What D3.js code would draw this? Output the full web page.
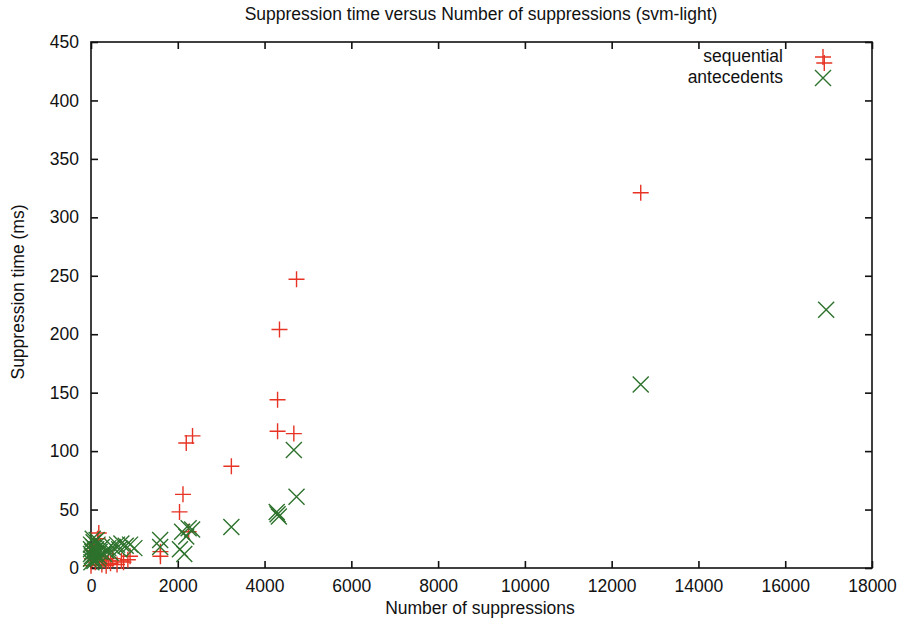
<!DOCTYPE html>
<html><head><meta charset="utf-8">
<script src="https://cdn.jsdelivr.net/npm/d3@7"></script>
<style>body{margin:0;background:#fff}svg{display:block}text{font-family:"Liberation Sans",Arial,sans-serif}</style>
</head><body><svg id="c" width="900" height="623"></svg>
<script>
const title = "Suppression time versus Number of suppressions (svm-light)";
const xLabel = "Number of suppressions";
const yLabel = "Suppression time (ms)";
const xTicks = [0,2000,4000,6000,8000,10000,12000,14000,16000,18000];
const yTicks = [0,50,100,150,200,250,300,350,400,450];
const seriesNames = ["sequential","antecedents"];
const seqX = [0,20,40,60,80,100,120,150,180,200,250,300,350,400,450,500,600,700,750,850,900,1600,1600,2040,2120,2195,2250,2340,3235,4300,4300,4344,4675,4737,12670,16900];
const seqY = [2,8,15,20,12,5,18,25,30,10,3,7,2,6,4,8,3,6,5,7,10,14,10,48,63,107,31,113,87,117,144,204,115,247,321,432];
const antX = [0,0,0,0,10,20,30,40,50,60,70,80,90,100,120,130,150,160,180,200,250,300,350,400,450,500,600,650,700,800,900,1000,1594,1594,2050,2150,2100,2195,2250,2330,3235,4280,4300,4330,4675,4737,12670,16944];
const antY = [8,12,16,20,5,10,14,25,18,22,8,6,15,12,16,24,20,8,10,14,18,12,15,17,13,18,20,16,21,19,20,17,24,18,16,12,31,27,34,33,35,48,46,44,101,61,157,221];

const svg = d3.select("#c");
const L=91,R=872,T=42,B=568;
const x = d3.scaleLinear().domain([0,18000]).range([L,R]);
const y = d3.scaleLinear().domain([0,450]).range([B,T]);
const red="#e63323", green="#2d722d";
const fs=17.5;

svg.append("rect").attr("x",L).attr("y",T).attr("width",R-L).attr("height",B-T)
  .attr("fill","none").attr("stroke","#111").attr("stroke-width",1.6);

const ax = svg.append("g").attr("transform",`translate(0,${B})`)
  .call(d3.axisBottom(x).tickValues(xTicks).tickSize(-7).tickPadding(12).tickFormat(d3.format("d")));
const axT = svg.append("g").attr("transform",`translate(0,${T})`)
  .call(d3.axisTop(x).tickValues(xTicks).tickSize(-7).tickFormat(""));
const ay = svg.append("g").attr("transform",`translate(${L},0)`)
  .call(d3.axisLeft(y).tickValues(yTicks).tickSize(-7).tickPadding(12).tickFormat(d3.format("d")));
const ayR = svg.append("g").attr("transform",`translate(${R},0)`)
  .call(d3.axisRight(y).tickValues(yTicks).tickSize(-7).tickFormat(""));
[ax,axT,ay,ayR].forEach(g=>{
  g.select(".domain").remove();
  g.selectAll(".tick line").attr("stroke","#111").attr("stroke-width",1.6);
  g.selectAll("text").attr("font-size",fs).attr("fill","#111").attr("font-family","Liberation Sans, Arial, sans-serif");
});

svg.append("text").attr("x",481).attr("y",20).attr("text-anchor","middle").attr("font-size",fs).attr("fill","#111").text(title);
svg.append("text").attr("x",480).attr("y",614).attr("text-anchor","middle").attr("font-size",fs).attr("fill","#111").text(xLabel);
svg.append("text").attr("transform","translate(24,292) rotate(-90)").attr("text-anchor","middle").attr("font-size",fs).attr("fill","#111").text(yLabel);

const s=8;
function plus(g,cx,cy,col){
  g.append("path").attr("d",`M${cx-s},${cy}H${cx+s}M${cx},${cy-s}V${cy+s}`).attr("stroke",col).attr("stroke-width",1.4).attr("fill","none");
}
function cross(g,cx,cy,col){
  g.append("path").attr("d",`M${cx-s},${cy-s}L${cx+s},${cy+s}M${cx-s},${cy+s}L${cx+s},${cy-s}`).attr("stroke",col).attr("stroke-width",1.4).attr("fill","none");
}
const gp = svg.append("g");
seqX.forEach((v,i)=>plus(gp,x(v),y(seqY[i]),red));
antX.forEach((v,i)=>cross(gp,x(v),y(antY[i]),green));

const lg = svg.append("g");
lg.append("text").attr("x",783).attr("y",62).attr("text-anchor","end").attr("font-size",fs).attr("fill","#111").text(seriesNames[0]);
lg.append("text").attr("x",783).attr("y",83).attr("text-anchor","end").attr("font-size",fs).attr("fill","#111").text(seriesNames[1]);
plus(lg,823,57,red);
cross(lg,823,78,green);
</script></body></html>
